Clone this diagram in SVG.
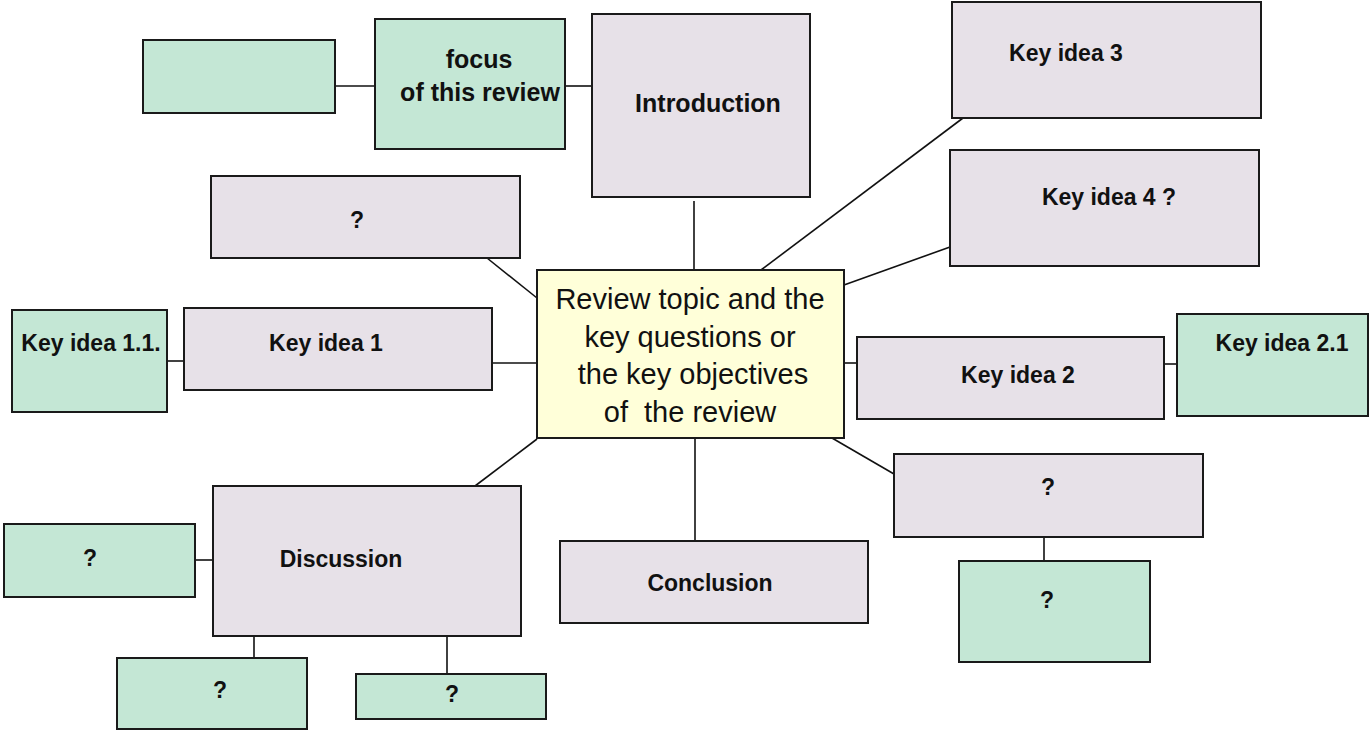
<svg xmlns="http://www.w3.org/2000/svg" width="1370" height="730" viewBox="0 0 1370 730">
<style>
.g{fill:#c4e7d5;stroke:#1a1a1a;stroke-width:2}
.p{fill:#e7e1e8;stroke:#1a1a1a;stroke-width:2}
.y{fill:#ffffd9;stroke:#1a1a1a;stroke-width:2}
.c line{stroke:#111;stroke-width:1.6}
text{font-family:"Liberation Sans",Arial,sans-serif;fill:#111;text-anchor:middle}
.b{font-weight:bold;font-size:23px}
.bl{font-weight:bold;font-size:25px}
.m{font-size:29px;white-space:pre}
</style>
<rect width="1370" height="730" fill="#ffffff"/>
<g class="c" id="connectors">
<line x1="335" y1="86" x2="375" y2="86"/>
<line x1="565" y1="86" x2="592" y2="86"/>
<line x1="694" y1="201" x2="694" y2="270"/>
<line x1="963" y1="118" x2="761" y2="270"/>
<line x1="950" y1="247" x2="844" y2="285"/>
<line x1="487" y1="258" x2="537" y2="298"/>
<line x1="167" y1="361" x2="184" y2="361"/>
<line x1="492" y1="363" x2="537" y2="363"/>
<line x1="844" y1="363" x2="857" y2="363"/>
<line x1="1164" y1="364" x2="1177" y2="364"/>
<line x1="537" y1="439" x2="475" y2="486"/>
<line x1="695" y1="438" x2="695" y2="541"/>
<line x1="832" y1="438" x2="894" y2="474"/>
<line x1="1044" y1="537" x2="1044" y2="561"/>
<line x1="195" y1="560" x2="213" y2="560"/>
<line x1="254" y1="636" x2="254" y2="658"/>
<line x1="447" y1="636" x2="447" y2="674"/>
</g>
<g id="green-empty"><rect class="g" x="143" y="40" width="192" height="73"/></g>
<g id="focus"><rect class="g" x="375" y="19" width="190" height="130"/>
<text class="bl" x="479" y="68">focus</text>
<text class="bl" x="480" y="101">of this review</text></g>
<g id="introduction"><rect class="p" x="592" y="14" width="218" height="183"/>
<text class="bl" x="708" y="112">Introduction</text></g>
<g id="key-idea-3"><rect class="p" x="952" y="2" width="309" height="116"/>
<text class="b" x="1066" y="61">Key idea 3</text></g>
<g id="key-idea-4"><rect class="p" x="950" y="150" width="309" height="116"/>
<text class="b" x="1109" y="205">Key idea 4 ?</text></g>
<g id="q-top-left"><rect class="p" x="211" y="176" width="309" height="82"/>
<text class="b" x="357" y="228">?</text></g>
<g id="center"><rect class="y" x="537" y="270" width="307" height="168"/>
<text class="m" x="690" y="309">Review topic and the</text>
<text class="m" x="690" y="347">key questions or</text>
<text class="m" x="693" y="384">the key objectives</text>
<text class="m" x="690" y="422">of  the review</text></g>
<g id="key-idea-1-1"><rect class="g" x="12" y="310" width="155" height="102"/>
<text class="b" x="91" y="351">Key idea 1.1.</text></g>
<g id="key-idea-1"><rect class="p" x="184" y="308" width="308" height="82"/>
<text class="b" x="326" y="351">Key idea 1</text></g>
<g id="key-idea-2"><rect class="p" x="857" y="337" width="307" height="82"/>
<text class="b" x="1018" y="383">Key idea 2</text></g>
<g id="key-idea-2-1"><rect class="g" x="1177" y="314" width="191" height="102"/>
<text class="b" x="1282" y="351">Key idea 2.1</text></g>
<g id="q-right"><rect class="p" x="894" y="454" width="309" height="83"/>
<text class="b" x="1048" y="495">?</text></g>
<g id="q-right-green"><rect class="g" x="959" y="561" width="191" height="101"/>
<text class="b" x="1047" y="608">?</text></g>
<g id="conclusion"><rect class="p" x="560" y="541" width="308" height="82"/>
<text class="b" x="710" y="591">Conclusion</text></g>
<g id="discussion"><rect class="p" x="213" y="486" width="308" height="150"/>
<text class="b" x="341" y="567">Discussion</text></g>
<g id="q-left-green"><rect class="g" x="4" y="524" width="191" height="73"/>
<text class="b" x="90" y="566">?</text></g>
<g id="q-bottom-left"><rect class="g" x="117" y="658" width="190" height="71"/>
<text class="b" x="220" y="698">?</text></g>
<g id="q-bottom-mid"><rect class="g" x="356" y="674" width="190" height="45"/>
<text class="b" x="452" y="702">?</text></g>
</svg>
